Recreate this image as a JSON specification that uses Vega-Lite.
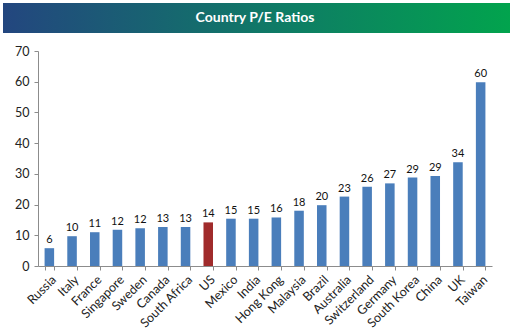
{
  "$schema": "https://vega.github.io/schema/vega-lite/v6.json",
  "padding": {"left": 3, "top": 3, "right": 3, "bottom": 3},
  "background": "white",
  "spacing": 12,
  "config": {"view": {"stroke": null}, "font": "Lato"},
  "vconcat": [
    {
      "width": 469,
      "height": 30,
      "data": {"values": [{"label": "Country P/E Ratios", "start": 0, "end": 1, "mid": 0.5}]},
      "layer": [
        {
          "mark": {"type": "rect", "xOffset": -35, "x2Offset": 35, "fill": {"gradient": "linear", "x1": 0, "x2": 1, "y1": 0, "y2": 0, "stops": [{"offset": 0, "color": "#23467F"}, {"offset": 0.5, "color": "#0F7A66"}, {"offset": 1, "color": "#00A94A"}]}},
          "encoding": {
            "x": {"field": "start", "type": "quantitative", "axis": null, "scale": {"domain": [0, 1], "nice": false, "zero": false}},
            "x2": {"field": "end"}
          }
        },
        {
          "mark": {"type": "text", "color": "white", "fontSize": 14, "fontWeight": "bold", "font": "Lato", "xOffset": -17.5},
          "encoding": {
            "x": {"field": "mid", "type": "quantitative", "axis": null, "scale": {"domain": [0, 1], "nice": false, "zero": false}},
            "text": {"field": "label"}
          }
        }
      ]
    },
    {
      "width": 454,
      "height": 215,
      "data": {"values": [
        {"country": "Russia", "pe": 5.8, "grp": "other"},
        {"country": "Italy", "pe": 9.7, "grp": "other"},
        {"country": "France", "pe": 11.0, "grp": "other"},
        {"country": "Singapore", "pe": 11.8, "grp": "other"},
        {"country": "Sweden", "pe": 12.3, "grp": "other"},
        {"country": "Canada", "pe": 12.7, "grp": "other"},
        {"country": "South Africa", "pe": 12.7, "grp": "other"},
        {"country": "US", "pe": 14.2, "grp": "US"},
        {"country": "Mexico", "pe": 15.4, "grp": "other"},
        {"country": "India", "pe": 15.4, "grp": "other"},
        {"country": "Hong Kong", "pe": 15.8, "grp": "other"},
        {"country": "Malaysia", "pe": 18.0, "grp": "other"},
        {"country": "Brazil", "pe": 19.8, "grp": "other"},
        {"country": "Australia", "pe": 22.6, "grp": "other"},
        {"country": "Switzerland", "pe": 25.8, "grp": "other"},
        {"country": "Germany", "pe": 26.9, "grp": "other"},
        {"country": "South Korea", "pe": 28.8, "grp": "other"},
        {"country": "China", "pe": 29.3, "grp": "other"},
        {"country": "UK", "pe": 33.8, "grp": "other"},
        {"country": "Taiwan", "pe": 59.8, "grp": "other"}
      ]},
      "encoding": {
        "x": {"field": "country", "type": "nominal", "sort": null, "title": null,
              "scale": {"paddingInner": 0.58, "paddingOuter": 0.29},
              "axis": {"labelAngle": -45, "labelFontSize": 12.5, "labelColor": "#222", "labelFont": "Lato",
                       "domainColor": "#8c8c8c", "tickColor": "#8c8c8c", "tickBand": "extent", "tickSize": 4, "labelPadding": 3}},
        "y": {"field": "pe", "type": "quantitative", "title": null,
              "scale": {"domain": [0, 70]},
              "axis": {"values": [0, 10, 20, 30, 40, 50, 60, 70], "grid": false, "labelFontSize": 12.5, "labelColor": "#222",
                       "domainColor": "#8c8c8c", "tickColor": "#8c8c8c", "tickSize": 4, "labelPadding": 5, "minExtent": 35}}
      },
      "layer": [
        {
          "mark": {"type": "bar"},
          "encoding": {
            "color": {"field": "grp", "type": "nominal", "legend": null,
                      "scale": {"domain": ["other", "US"], "range": ["#4A7EBB", "#A02B2B"]}}
          }
        },
        {
          "mark": {"type": "text", "dy": -8, "fontSize": 11, "color": "#111", "font": "Lato"},
          "encoding": {"text": {"field": "pe", "type": "quantitative", "format": ".0f"}}
        }
      ]
    }
  ]
}
